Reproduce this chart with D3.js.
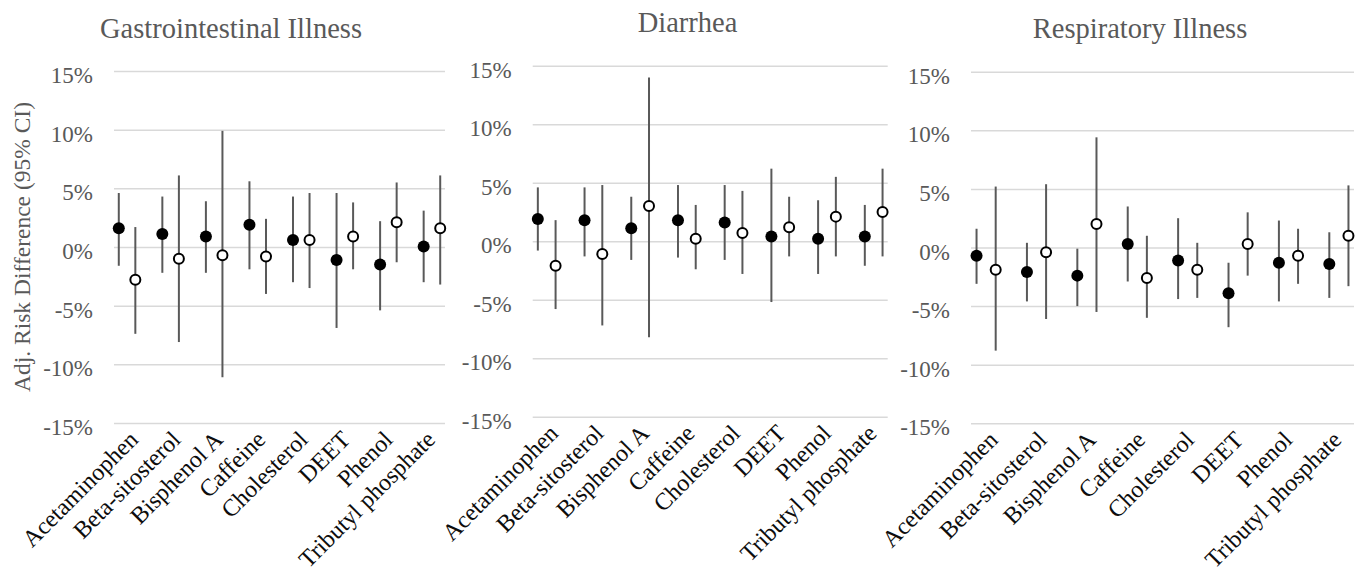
<!DOCTYPE html>
<html><head><meta charset="utf-8">
<script src="https://cdn.jsdelivr.net/npm/d3@7"></script>
<style>
body{margin:0;background:#fff}
svg{display:block}
text{font-family:"Liberation Serif","Times New Roman",serif}
</style>
</head><body>
<svg id="chart" width="1363" height="572"></svg>
<script>
// ---------- data ----------
const categories = ["Acetaminophen","Beta-sitosterol","Bisphenol A","Caffeine","Cholesterol","DEET","Phenol","Tributyl phosphate"];
const yTicks = [-15,-10,-5,0,5,10,15];
const panelTitles = ["Gastrointestinal Illness","Diarrhea","Respiratory Illness"];
const yAxisTitle = "Adj. Risk Difference (95% CI)";

// Gastrointestinal illness
const giFilledEst = [1.6, 1.1, 0.9, 1.9, 0.6, -1.1, -1.5, 0.05];
const giFilledLo  = [-1.6, -2.2, -2.2, -1.9, -3.0, -6.9, -5.4, -3.0];
const giFilledHi  = [4.6, 4.3, 3.9, 5.6, 4.3, 4.6, 2.2, 3.1];
const giOpenEst   = [-2.8, -1.0, -0.7, -0.8, 0.6, 0.9, 2.1, 1.6];
const giOpenLo    = [-7.4, -8.1, -11.1, -4.0, -3.5, -1.9, -1.3, -3.2];
const giOpenHi    = [1.7, 6.1, 9.9, 2.4, 4.6, 3.8, 5.5, 6.1];

// Diarrhea
const diFilledEst = [1.9, 1.8, 1.1, 1.8, 1.6, 0.4, 0.2, 0.4];
const diFilledLo  = [-0.8, -1.3, -1.6, -1.4, -1.6, -5.2, -2.8, -2.1];
const diFilledHi  = [4.6, 4.6, 3.8, 4.8, 4.8, 6.2, 3.5, 3.1];
const diOpenEst   = [-2.1, -1.1, 3.0, 0.2, 0.7, 1.2, 2.1, 2.5];
const diOpenLo    = [-5.8, -7.2, -8.2, -2.4, -2.8, -1.3, -1.3, -1.3];
const diOpenHi    = [1.8, 4.8, 14.0, 3.1, 4.3, 3.8, 5.5, 6.2];

// Respiratory illness
const reFilledEst = [-0.7, -2.1, -2.4, 0.3, -1.1, -3.9, -1.3, -1.4];
const reFilledLo  = [-3.1, -4.6, -5.0, -2.9, -4.4, -6.8, -4.6, -4.3];
const reFilledHi  = [1.6, 0.4, -0.1, 3.5, 2.5, -1.3, 2.3, 1.3];
const reOpenEst   = [-1.9, -0.4, 2.0, -2.6, -1.9, 0.3, -0.7, 1.0];
const reOpenLo    = [-8.8, -6.1, -5.5, -6.0, -4.3, -2.4, -3.1, -3.3];
const reOpenHi    = [5.2, 5.4, 9.4, 1.0, 0.4, 3.0, 1.6, 5.3];

const panelData = [
  {filled:[giFilledEst,giFilledLo,giFilledHi], open:[giOpenEst,giOpenLo,giOpenHi]},
  {filled:[diFilledEst,diFilledLo,diFilledHi], open:[diOpenEst,diOpenLo,diOpenHi]},
  {filled:[reFilledEst,reFilledLo,reFilledHi], open:[reOpenEst,reOpenLo,reOpenHi]}
];

// ---------- layout ----------
const layout = [
  {x0:114,   x1:445,   yTop:71,   yBot:423,   titleX:231,    titleY:38},
  {x0:532.7, x1:887.7, yTop:65.7, yBot:416.7, titleX:687.5,  titleY:32},
  {x0:971,   x1:1354,  yTop:71.7, yBot:423.3, titleX:1140,   titleY:38}
];

const svg = d3.select("#chart");
const GRAY = "#595959";
const FONT = '"Liberation Serif","Times New Roman",serif';

layout.forEach((L, pi) => {
  const g = svg.append("g");
  const y = d3.scaleLinear().domain([-15,15]).range([L.yBot, L.yTop]);
  const x = d3.scalePoint().domain(categories).range([L.x0, L.x1]).padding(0.3);
  const xl = d3.scalePoint().domain(categories).range([L.x0, L.x1]).padding(0.4);
  const off = x.step() * 0.19;

  // title
  g.append("text").attr("x", L.titleX).attr("y", L.titleY)
    .attr("text-anchor","middle").attr("font-size", 28.5).attr("fill", GRAY)
    .text(panelTitles[pi]);

  // y axis with gridlines
  const ya = g.append("g").attr("transform", `translate(${L.x0},0)`)
    .call(d3.axisLeft(y).tickValues(yTicks).tickSize(-(L.x1-L.x0)).tickPadding(21).tickFormat(d => d + "%"));
  ya.select(".domain").remove();
  ya.selectAll(".tick line").attr("stroke","#d9d9d9").attr("stroke-width",1.5);
  ya.selectAll(".tick text").attr("font-size",23).attr("fill",GRAY).attr("dy","0.5em")
    .attr("font-family",FONT);

  // x axis labels
  const xa = g.append("g").attr("transform", `translate(0,${L.yBot})`)
    .call(d3.axisBottom(xl).tickSize(0));
  xa.select(".domain").remove();
  xa.selectAll(".tick text").attr("x",0).attr("y",0).attr("dy",0)
    .attr("text-anchor","end").attr("transform","translate(8,18) rotate(-45)")
    .attr("font-size",24).attr("fill","#0d0d0d")
    .attr("font-family",FONT);

  const D = panelData[pi];
  const series = [
    {vals:D.filled, dx:-off, fill:"#000", stroke:"none", r:6, sw:0},
    {vals:D.open,   dx: off, fill:"#fff", stroke:"#000", r:5, sw:2}
  ];
  series.forEach(s => {
    const rows = categories.map((c,i) => ({c, est:s.vals[0][i], lo:s.vals[1][i], hi:s.vals[2][i]}));
    g.append("g").selectAll("line").data(rows).join("line")
      .attr("x1", d => x(d.c)+s.dx).attr("x2", d => x(d.c)+s.dx)
      .attr("y1", d => y(d.lo)).attr("y2", d => y(d.hi))
      .attr("stroke", GRAY).attr("stroke-width", 2);
  });
  series.forEach(s => {
    const rows = categories.map((c,i) => ({c, est:s.vals[0][i]}));
    g.append("g").selectAll("circle").data(rows).join("circle")
      .attr("cx", d => x(d.c)+s.dx).attr("cy", d => y(d.est)).attr("r", s.r)
      .attr("fill", s.fill).attr("stroke", s.stroke).attr("stroke-width", s.sw);
  });

  if (pi === 0) {
    g.append("text").attr("transform", `translate(30,${(L.yTop+L.yBot)/2}) rotate(-90)`)
      .attr("text-anchor","middle").attr("font-size",23.5).attr("fill",GRAY)
      .text(yAxisTitle);
  }
});
</script>
</body></html>
